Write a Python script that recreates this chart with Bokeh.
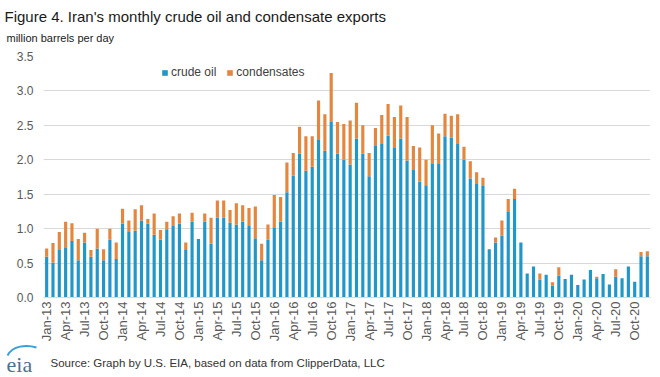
import math
from bokeh.plotting import figure
from bokeh.layouts import column
from bokeh.models import (ColumnDataSource, Range1d, FixedTicker, NumeralTickFormatter,
                          Legend, LegendItem, Label)
from bokeh.embed import file_html
from bokeh.resources import INLINE

# ---------------- data (million barrels per day) ----------------
years = ["13", "14", "15", "16", "17", "18", "19", "20"]
month_names = ["Jan", "Feb", "Mar", "Apr", "May", "Jun",
               "Jul", "Aug", "Sep", "Oct", "Nov", "Dec"]
months = [f"{m}-{y}" for y in years for m in month_names]

totals = [0.71, 0.79, 0.95, 1.10, 1.08, 0.85, 0.94, 0.69, 1.00, 0.70, 1.00, 0.80,
          1.29, 1.12, 1.28, 1.34, 1.14, 1.22, 0.98, 1.10, 1.18, 1.22, 0.80, 1.23,
          0.85, 1.22, 1.16, 1.41, 1.41, 1.27, 1.37, 1.34, 1.30, 1.32, 0.78, 1.06,
          1.49, 1.46, 1.96, 2.10, 2.48, 2.34, 2.34, 2.86, 2.66, 3.26, 2.55, 2.52,
          2.57, 2.83, 2.50, 2.10, 2.46, 2.65, 2.81, 2.62, 2.79, 2.62, 2.20, 2.18,
          2.00, 2.50, 2.38, 2.67, 2.64, 2.66, 2.19, 1.98, 1.82, 1.74, 0.70, 0.87,
          1.12, 1.43, 1.58, 0.80, 0.35, 0.45, 0.35, 0.33, 0.22, 0.44, 0.27, 0.33,
          0.18, 0.26, 0.40, 0.30, 0.34, 0.19, 0.41, 0.28, 0.45, 0.23, 0.66, 0.67]

crude_oil = [0.59, 0.51, 0.70, 0.72, 0.82, 0.54, 0.80, 0.59, 0.71, 0.54, 0.84, 0.56,
             1.07, 0.95, 0.97, 1.12, 1.07, 0.91, 0.84, 0.98, 1.04, 1.07, 0.70, 1.10,
             0.85, 1.10, 0.78, 1.16, 1.16, 1.09, 1.06, 1.10, 1.04, 0.86, 0.54, 0.84,
             1.02, 1.10, 1.53, 1.77, 2.09, 1.84, 1.90, 2.30, 2.13, 2.55, 2.09, 2.00,
             1.93, 2.31, 2.09, 1.76, 2.21, 2.23, 2.35, 2.17, 2.31, 1.99, 1.85, 1.68,
             1.63, 1.94, 1.94, 2.34, 2.32, 2.24, 2.00, 1.73, 1.66, 1.62, 0.70, 0.80,
             0.90, 1.24, 1.43, 0.80, 0.35, 0.45, 0.26, 0.33, 0.17, 0.32, 0.27, 0.33,
             0.18, 0.26, 0.40, 0.28, 0.34, 0.19, 0.30, 0.28, 0.45, 0.23, 0.60, 0.60]

condensates = [round(t - c, 2) for t, c in zip(totals, crude_oil)]

tick_positions = list(range(0, len(months), 3))
tick_labels = [months[i] for i in tick_positions]
y_ticks = [0.0, 0.5, 1.0, 1.5, 2.0, 2.5, 3.0, 3.5]

BLUE = "#2196c9"
ORANGE = "#e5863f"
FONT = "Liberation Sans"
W = 656


def text_strip(height):
    """A figure whose frame fills the whole canvas, in pixel-like units (y downwards)."""
    f = figure(width=W, height=height, output_backend="svg", toolbar_location=None,
               x_range=Range1d(0, W), y_range=Range1d(height, 0),
               x_axis_location=None, y_axis_location=None,
               min_border=0, min_border_left=0, min_border_right=0,
               min_border_top=0, min_border_bottom=0)
    f.outline_line_color = None
    f.grid.visible = False
    f.frame_align = False
    return f


# ---------------- header ----------------
header = text_strip(50)
header.add_layout(Label(x=4, y=16, text_baseline="alphabetic",
                        text="Figure 4. Iran's monthly crude oil and condensate exports",
                        text_font=FONT, text_font_size="15px", text_color="#1a1a1a"))
header.add_layout(Label(x=6, y=37, text_baseline="alphabetic",
                        text="million barrels per day",
                        text_font=FONT, text_font_size="11px", text_color="#1a1a1a"))

# ---------------- main chart ----------------
source = ColumnDataSource(dict(x=list(range(len(months))), month=months,
                               crude_oil=crude_oil, condensates=condensates))

p = figure(width=W, height=294, output_backend="svg", toolbar_location=None,
           x_range=Range1d(-0.5, len(months) - 0.5), y_range=Range1d(0, 3.5),
           min_border_left=43, min_border_right=6, min_border_top=6,
           min_border_bottom=46)
p.frame_align = False
p.outline_line_color = None
p.background_fill_color = "white"
p.border_fill_color = "white"

renderers = p.vbar_stack(["crude_oil", "condensates"], x="x", width=0.5,
                         color=[BLUE, ORANGE], line_color=None, source=source)

p.xgrid.grid_line_color = None
p.ygrid.grid_line_color = "#d9d9d9"
p.ygrid.ticker = FixedTicker(ticks=y_ticks)

p.yaxis.ticker = FixedTicker(ticks=y_ticks)
p.yaxis.formatter = NumeralTickFormatter(format="0.0")
p.yaxis.axis_line_color = None
p.yaxis.major_tick_line_color = None
p.yaxis.minor_tick_line_color = None
p.yaxis.major_tick_out = 0
p.yaxis.minor_tick_out = 0
p.yaxis.major_label_standoff = 10
p.yaxis.major_label_text_font = FONT
p.yaxis.major_label_text_font_size = "12px"
p.yaxis.major_label_text_color = "#595959"

p.xaxis.ticker = FixedTicker(ticks=tick_positions)
p.xaxis.major_label_overrides = {i: lab for i, lab in zip(tick_positions, tick_labels)}
p.xaxis.major_label_orientation = math.pi / 2
p.xaxis.axis_line_color = "#d9d9d9"
p.xaxis.major_tick_line_color = None
p.xaxis.minor_tick_line_color = None
p.xaxis.major_tick_out = 0
p.xaxis.major_tick_in = 0
p.xaxis.minor_tick_out = 0
p.xaxis.minor_tick_in = 0
p.xaxis.major_label_standoff = 4
p.xaxis.major_label_text_font = FONT
p.xaxis.major_label_text_font_size = "13px"
p.xaxis.major_label_text_color = "#595959"

legend = Legend(items=[LegendItem(label="crude oil", renderers=[renderers[0]]),
                       LegendItem(label="condensates", renderers=[renderers[1]])],
                orientation="horizontal", location=(118, 218),
                padding=0, margin=0, spacing=10, label_standoff=3,
                glyph_width=7, glyph_height=7,
                label_text_font=FONT, label_text_font_size="12px",
                label_text_color="#404040",
                border_line_color=None, background_fill_alpha=0)
p.add_layout(legend, "center")

# ---------------- footer ----------------
footer = text_strip(32)
footer.bezier(x0=[7], y0=[11], x1=[36], y1=[3], cx0=[12], cy0=[1], cx1=[26], cy1=[0],
              line_color="#3a9fd6", line_width=2)
footer.add_layout(Label(x=6, y=20, text_baseline="alphabetic", text="eia",
                        text_font="Liberation Serif", text_font_size="22px",
                        text_color="#4f6f8f"))
footer.add_layout(Label(x=50, y=18, text_baseline="alphabetic",
                        text="Source: Graph by U.S. EIA, based on data from ClipperData, LLC",
                        text_font=FONT, text_font_size="11.5px", text_color="#333333"))

layout = column(header, p, footer, spacing=0)
open("out.html", "w").write(file_html(layout, INLINE))
